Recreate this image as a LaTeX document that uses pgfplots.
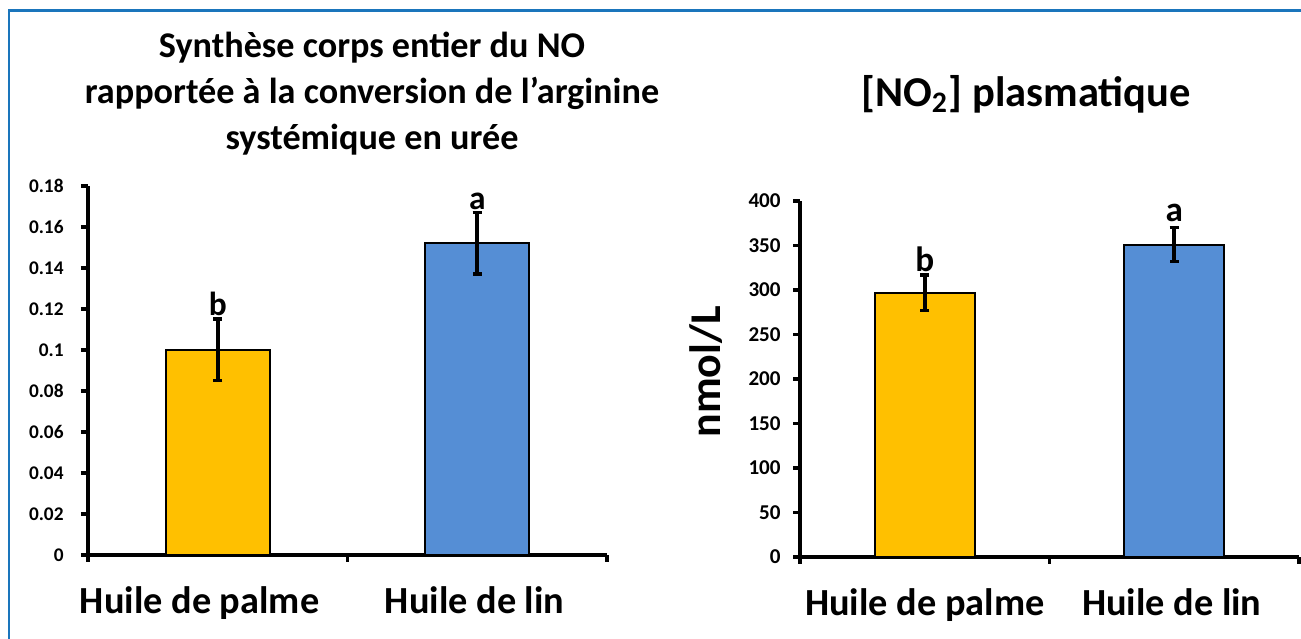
\documentclass[border=0pt]{standalone}
\usepackage{pgfplots}
\pgfplotsset{compat=1.18}
\usepackage{fontspec}
\setmainfont{Carlito}
\definecolor{palme}{RGB}{255,192,0}
\definecolor{lin}{RGB}{85,142,213}
\definecolor{cadre}{RGB}{26,117,188}
\pgfplotsset{
  mybar/.style={
    scale only axis, anchor=south west,
    xmin=-0.5, xmax=1.5, ymin=0,
    axis x line*=bottom, axis y line*=left,
    axis line style={line width=1pt,-},
    tick align=outside, major tick length=0.07cm,
    tick style={line width=1pt, black},
    xtick={-0.5,0.5,1.5}, xticklabels={,,},
    extra x tick style={major tick length=0pt,
      tick label style={font=\bfseries\fontsize{10.9}{12}\selectfont, yshift=-0.19cm}},
    extra x tick labels={Huile de palme, Huile de lin},
    scaled y ticks=false,
    /pgf/number format/assume math mode=true,
    yticklabel style={font=\bfseries\fontsize{5.5}{6}\selectfont},
    clip=false,
  },
  bar/.style={ybar, bar width=0.4, bar shift=0pt, draw=black, line width=0.6pt,
    error bars/.cd, y dir=both, y explicit,
    error bar style={line width=1pt, black},
    error mark options={line width=1pt, mark size=1.3pt, black, rotate=90}},
}
\begin{document}
\begin{tikzpicture}
\useasboundingbox (0,0) rectangle (13.01,6.39);
\fill[white] (0,0) rectangle (13.01,6.39);
\draw[cadre, line width=0.85pt] (0.09,0) -- (0.09,6.28) -- (13.01,6.28);

\node[align=center, font=\bfseries\fontsize{10.3}{13.1}\selectfont] at (3.72,5.45)
  {Synthèse corps entier du NO\\rapportée à la conversion de l’arginine\\systémique en urée};
\node[font=\bfseries\fontsize{12.1}{14}\selectfont] at (10.26,5.45)
  {[NO\textsubscript{2}] plasmatique};

\begin{axis}[mybar, at={(0.88cm,0.84cm)}, width=5.19cm, height=3.69cm,
  ymax=0.18, ytick={0,0.02,0.04,0.06,0.08,0.1,0.12,0.14,0.16,0.18},
  yticklabel style={/pgf/number format/fixed, /pgf/number format/precision=2, xshift=-0.05cm},
  extra x ticks={-0.07,0.99}]
\addplot[fill=palme, bar] coordinates {(0,0.1) +- (0,0.015)};
\addplot[fill=lin, bar] coordinates {(1,0.152) +- (0,0.015)};
\node[font=\bfseries\fontsize{9.5}{11}\selectfont] at (axis cs:0,0.1227) {b};
\node[font=\bfseries\fontsize{9.5}{11}\selectfont] at (axis cs:1,0.1724) {a};
\end{axis}

\begin{axis}[mybar, at={(8.00cm,0.82cm)}, width=4.99cm, height=3.56cm,
  ymax=400, ytick={0,50,100,150,200,250,300,350,400},
  yticklabel style={font=\bfseries\fontsize{6}{7}\selectfont},
  extra x ticks={0,0.99},
  ylabel={nmol/L},
  ylabel style={font=\bfseries\fontsize{12.5}{14}\selectfont, at={(axis description cs:-0.188,0.52)}, anchor=center, rotate=0}]
\addplot[fill=palme, bar] coordinates {(0,297) +- (0,20)};
\addplot[fill=lin, bar] coordinates {(1,351) +- (0,19)};
\node[font=\bfseries\fontsize{10}{11}\selectfont] at (axis cs:0,334.6) {b};
\node[font=\bfseries\fontsize{10}{11}\selectfont] at (axis cs:1,387) {a};
\end{axis}
\end{tikzpicture}
\end{document}
